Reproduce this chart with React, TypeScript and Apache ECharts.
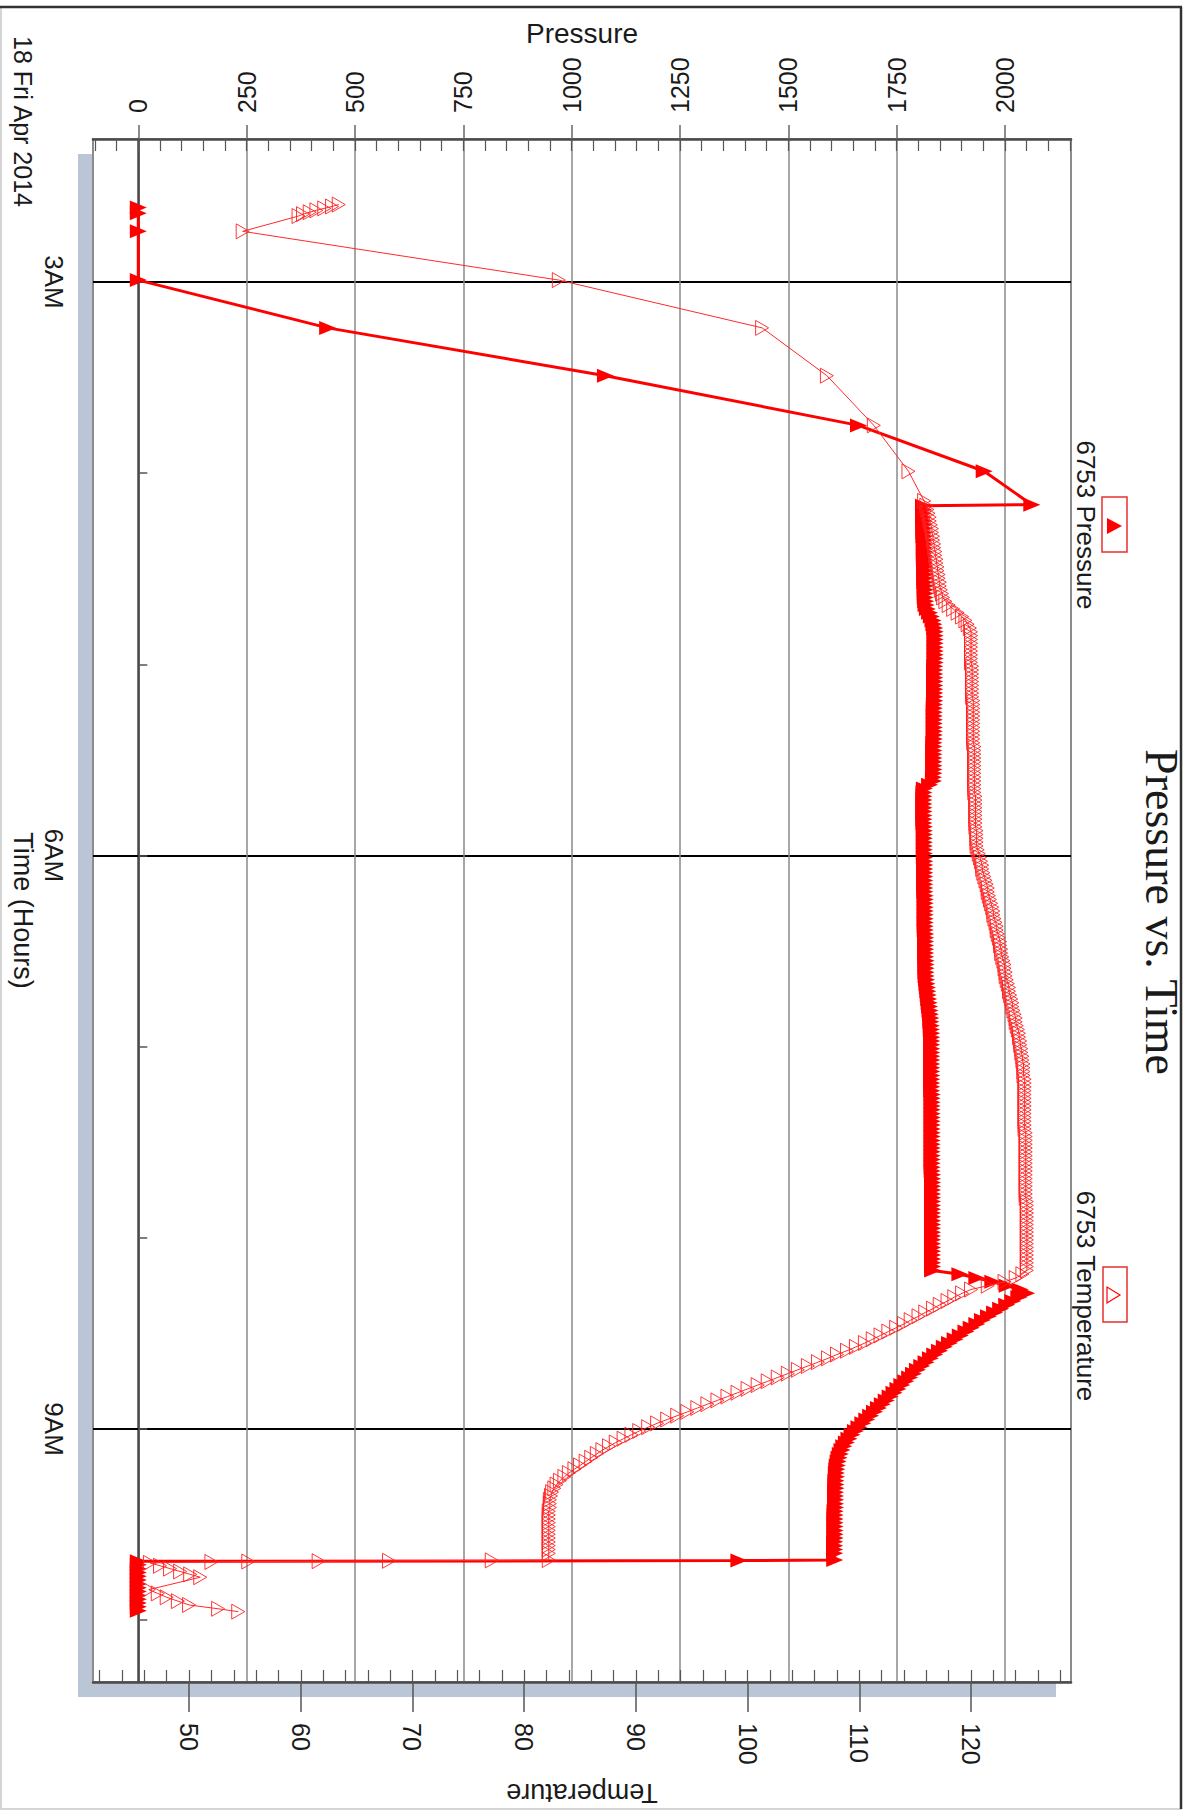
import React, { useEffect, useRef } from "react";
import * as echarts from "echarts";

const FONT = "'Liberation Sans', Arial, sans-serif";
const SERIF = "'Liberation Serif', 'Times New Roman', serif";

// ---- axis ticks / labels ----
const pressureMajorTicks = [0, 250, 500, 750, 1000, 1250, 1500, 1750, 2000];
const temperatureMajorTicks = [50, 60, 70, 80, 90, 100, 110, 120];
const timeMajorTicks = [3, 6, 9];
const timeMajorLabels = ["3AM", "6AM", "9AM"];
const timeHourTicks = [3, 4, 5, 6, 7, 8, 9, 10];

function steps(from: number, to: number, step: number): number[] {
  const out: number[] = [];
  for (let v = from; v <= to + 1e-9; v += step) out.push(Math.round(v * 1000) / 1000);
  return out;
}
const pressureMinorTicks = steps(-100, 2150, 50);
const temperatureMinorTicks = steps(42, 128, 2);

// ---- data (time in hours of the day) ----
const pressureStartHours = [2.61, 2.64, 2.735, 2.99, 3.24, 3.49, 3.75, 3.99, 4.165];
const pressureStartValues = [0, 0, 0, 0, 437, 1078, 1662, 1952, 2062];

const denseHours = [
  4.17, 4.19, 4.21, 4.23, 4.25, 4.27, 4.29, 4.31, 4.33, 4.35,
  4.37, 4.39, 4.41, 4.43, 4.45, 4.47, 4.49, 4.51, 4.53, 4.55,
  4.57, 4.59, 4.61, 4.63, 4.65, 4.67, 4.69, 4.71, 4.73, 4.75,
  4.77, 4.79, 4.81, 4.83, 4.85, 4.87, 4.89, 4.91, 4.93, 4.95,
  4.97, 4.99, 5.01, 5.03, 5.05, 5.07, 5.09, 5.11, 5.13, 5.15,
  5.17, 5.19, 5.21, 5.23, 5.25, 5.27, 5.29, 5.31, 5.33, 5.35,
  5.37, 5.39, 5.41, 5.43, 5.45, 5.47, 5.49, 5.51, 5.53, 5.55,
  5.57, 5.59, 5.61, 5.63, 5.65, 5.67, 5.69, 5.71, 5.73, 5.75,
  5.77, 5.79, 5.81, 5.83, 5.85, 5.87, 5.89, 5.91, 5.93, 5.95,
  5.97, 5.99, 6.01, 6.03, 6.05, 6.07, 6.09, 6.11, 6.13, 6.15,
  6.17, 6.19, 6.21, 6.23, 6.25, 6.27, 6.29, 6.31, 6.33, 6.35,
  6.37, 6.39, 6.41, 6.43, 6.45, 6.47, 6.49, 6.51, 6.53, 6.55,
  6.57, 6.59, 6.61, 6.63, 6.65, 6.67, 6.69, 6.71, 6.73, 6.75,
  6.77, 6.79, 6.81, 6.83, 6.85, 6.87, 6.89, 6.91, 6.93, 6.95,
  6.97, 6.99, 7.01, 7.03, 7.05, 7.07, 7.09, 7.11, 7.13, 7.15,
  7.17, 7.19, 7.21, 7.23, 7.25, 7.27, 7.29, 7.31, 7.33, 7.35,
  7.37, 7.39, 7.41, 7.43, 7.45, 7.47, 7.49, 7.51, 7.53, 7.55,
  7.57, 7.59, 7.61, 7.63, 7.65, 7.67, 7.69, 7.71, 7.73, 7.75,
  7.77, 7.79, 7.81, 7.83, 7.85, 7.87, 7.89, 7.91, 7.93, 7.95,
  7.97, 7.99, 8.01, 8.03, 8.05, 8.07, 8.09, 8.11, 8.13, 8.15,
  8.17,
];

const pressureDenseValues = [
  1812, 1812, 1812, 1812, 1813, 1813, 1813, 1813, 1813, 1814,
  1814, 1814, 1814, 1814, 1814, 1815, 1815, 1815, 1815, 1815,
  1815, 1816, 1816, 1816, 1816, 1817, 1818, 1821, 1826, 1830,
  1834, 1836, 1838, 1839, 1839, 1839, 1839, 1839, 1839, 1839,
  1839, 1839, 1838, 1838, 1838, 1838, 1838, 1838, 1838, 1838,
  1838, 1838, 1837, 1837, 1837, 1837, 1837, 1837, 1837, 1837,
  1837, 1837, 1836, 1836, 1836, 1836, 1836, 1836, 1836, 1836,
  1836, 1835, 1835, 1826, 1814, 1813, 1813, 1813, 1813, 1813,
  1813, 1813, 1813, 1813, 1814, 1814, 1814, 1814, 1814, 1814,
  1814, 1814, 1814, 1815, 1815, 1815, 1815, 1815, 1815, 1815,
  1815, 1815, 1816, 1816, 1816, 1816, 1816, 1816, 1816, 1816,
  1816, 1816, 1817, 1817, 1817, 1817, 1817, 1817, 1817, 1818,
  1818, 1818, 1818, 1818, 1819, 1820, 1821, 1822, 1823, 1824,
  1825, 1826, 1827, 1828, 1829, 1829, 1830, 1830, 1831, 1831,
  1831, 1831, 1831, 1831, 1831, 1831, 1831, 1831, 1831, 1831,
  1831, 1831, 1831, 1831, 1832, 1832, 1832, 1832, 1832, 1832,
  1832, 1832, 1832, 1832, 1832, 1832, 1832, 1832, 1832, 1832,
  1832, 1832, 1832, 1832, 1832, 1833, 1833, 1833, 1833, 1833,
  1833, 1833, 1833, 1833, 1833, 1833, 1833, 1833, 1833, 1833,
  1833, 1833, 1833, 1833, 1833, 1833, 1833, 1833, 1833, 1833,
  1833,
];

const pressureEndHours = [
  8.19, 8.21, 8.23, 8.25, 8.27, 8.29,
  8.31, 8.33, 8.35, 8.37, 8.39, 8.41, 8.43, 8.45, 8.47, 8.49,
  8.51, 8.53, 8.55, 8.57, 8.59, 8.61, 8.63, 8.65, 8.67, 8.69,
  8.71, 8.73, 8.75, 8.77, 8.79, 8.81, 8.83, 8.85, 8.87, 8.89,
  8.91, 8.93, 8.95, 8.97, 8.99, 9.01, 9.03, 9.05, 9.07, 9.09,
  9.11, 9.13, 9.15, 9.17, 9.19, 9.21, 9.23, 9.25, 9.27, 9.29,
  9.31, 9.33, 9.35, 9.37, 9.39, 9.41, 9.43, 9.45, 9.47, 9.49,
  9.51, 9.53, 9.55, 9.57, 9.59, 9.61, 9.63, 9.65,
  9.685, 9.688, 9.692,
  9.71, 9.73, 9.75, 9.77, 9.79, 9.81, 9.83, 9.85, 9.87, 9.89, 9.91, 9.93, 9.95,
];
const pressureEndValues = [
  1896, 1935, 1972, 2005, 2035, 2050,
  2032, 2018, 2004, 1990, 1976, 1962, 1948, 1935, 1922, 1910,
  1897, 1885, 1872, 1860, 1849, 1838, 1828, 1818, 1808, 1798,
  1789, 1780, 1771, 1762, 1753, 1744, 1735, 1726, 1717, 1708,
  1699, 1690, 1681, 1672, 1663, 1655, 1647, 1640, 1634, 1628,
  1624, 1620, 1617, 1615, 1613, 1612, 1611, 1611, 1610, 1610,
  1610, 1609, 1609, 1609, 1609, 1609, 1608, 1608, 1608, 1608,
  1608, 1608, 1608, 1608, 1607, 1607, 1607, 1607,
  1607, 1386, 0,
  0, 0, 0, 0, 0, 0, 0, 0, 0, 0, 0, 0, 0,
];

const tempStartHours = [2.595, 2.605, 2.615, 2.625, 2.635, 2.645, 2.655, 2.735, 2.99, 3.24, 3.49, 3.75, 3.99, 4.145];
const tempStartValues = [63.4, 62.8, 62.1, 61.4, 60.8, 60.2, 59.8, 54.8, 83.1, 101.3, 107.1, 111.3, 114.4, 115.8];

const tempDenseValues = [
  116.0, 116.1, 116.2, 116.3, 116.3, 116.4, 116.5, 116.5, 116.6, 116.6,
  116.7, 116.7, 116.8, 116.8, 116.9, 116.9, 117.0, 117.0, 117.1, 117.1,
  117.2, 117.2, 117.3, 117.4, 117.5, 117.7, 118.0, 118.4, 118.8, 119.2,
  119.5, 119.7, 119.9, 120.0, 120.0, 120.0, 120.0, 120.0, 120.0, 120.0,
  120.0, 120.0, 120.1, 120.1, 120.1, 120.1, 120.1, 120.1, 120.1, 120.1,
  120.1, 120.2, 120.2, 120.2, 120.2, 120.2, 120.2, 120.2, 120.2, 120.2,
  120.2, 120.2, 120.2, 120.3, 120.3, 120.3, 120.3, 120.3, 120.3, 120.3,
  120.3, 120.3, 120.3, 120.3, 120.3, 120.3, 120.4, 120.4, 120.4, 120.4,
  120.4, 120.4, 120.4, 120.4, 120.4, 120.5, 120.5, 120.5, 120.5, 120.5,
  120.6, 120.7, 120.8, 120.9, 121.0, 121.0, 121.1, 121.2, 121.3, 121.4,
  121.5, 121.5, 121.6, 121.7, 121.8, 121.9, 122.0, 122.0, 122.1, 122.2,
  122.3, 122.3, 122.4, 122.5, 122.6, 122.6, 122.7, 122.7, 122.8, 122.9,
  123.0, 123.0, 123.1, 123.1, 123.2, 123.3, 123.4, 123.4, 123.5, 123.6,
  123.7, 123.7, 123.8, 123.9, 124.0, 124.0, 124.1, 124.2, 124.3, 124.3,
  124.4, 124.4, 124.5, 124.5, 124.6, 124.6, 124.7, 124.7, 124.7, 124.7,
  124.8, 124.8, 124.8, 124.8, 124.8, 124.8, 124.8, 124.8, 124.8, 124.8,
  124.8, 124.8, 124.8, 124.8, 124.9, 124.9, 124.9, 124.9, 124.9, 124.9,
  124.9, 124.9, 124.9, 124.9, 124.9, 124.9, 124.9, 124.9, 124.9, 124.9,
  124.9, 124.9, 125.0, 125.0, 125.0, 125.0, 125.0, 125.0, 125.0, 125.0,
  125.0, 125.0, 125.0, 125.0, 125.0, 125.0, 125.0, 125.0, 125.0, 125.0,
  125.0,
];

const tempEndHours = [
  8.19, 8.21, 8.23, 8.25, 8.27, 8.29,
  8.31, 8.33, 8.35, 8.37, 8.39, 8.41, 8.43, 8.45, 8.47, 8.49,
  8.51, 8.53, 8.55, 8.57, 8.59, 8.61, 8.63, 8.65, 8.67, 8.69,
  8.71, 8.73, 8.75, 8.77, 8.79, 8.81, 8.83, 8.85, 8.87, 8.89,
  8.91, 8.93, 8.95, 8.97, 8.99, 9.01, 9.03, 9.05, 9.07, 9.09,
  9.11, 9.13, 9.15, 9.17, 9.19, 9.21, 9.23, 9.25, 9.27, 9.29,
  9.31, 9.33, 9.35, 9.37, 9.39, 9.41, 9.43, 9.45, 9.47, 9.49,
  9.51, 9.53, 9.55, 9.57, 9.59, 9.61, 9.63, 9.65,
  9.685, 9.687, 9.689, 9.691, 9.693, 9.695,
  9.7, 9.715, 9.73, 9.745, 9.76, 9.775,
  9.84, 9.86, 9.88, 9.9, 9.92, 9.94, 9.955,
];
const tempEndValues = [
  124.6, 124.0, 123.0, 121.5, 120.0, 119.2,
  118.5, 117.9, 117.2, 116.6, 115.9, 115.3, 114.6, 114.0, 113.3, 112.6,
  111.9, 111.2, 110.5, 109.7, 108.9, 108.0, 107.2, 106.3, 105.4, 104.5,
  103.6, 102.7, 101.8, 100.9, 100.0, 99.1, 98.2, 97.3, 96.4, 95.5,
  94.6, 93.7, 92.8, 91.9, 91.1, 90.3, 89.6, 88.9, 88.2, 87.6,
  87.0, 86.5, 86.0, 85.5, 85.0, 84.5, 84.0, 83.6, 83.2, 82.9,
  82.7, 82.5, 82.4, 82.3, 82.3, 82.3, 82.2, 82.2, 82.2, 82.2,
  82.2, 82.2, 82.2, 82.2, 82.2, 82.2, 82.2, 82.2,
  82.2, 77.1, 67.9, 61.6, 55.3, 52.0,
  46.5, 47.4, 48.3, 49.2, 50.1, 51.0,
  46.4, 47.2, 48.0, 49.0, 50.0, 52.6, 54.4,
];

const pressureHours = [...pressureStartHours, ...denseHours, ...pressureEndHours];
const pressureValues = [...pressureStartValues, ...pressureDenseValues, ...pressureEndValues];
const tempHours = [...tempStartHours, ...denseHours, ...tempEndHours];
const tempValues = [...tempStartValues, ...tempDenseValues, ...tempEndValues];

const pressureData = pressureHours.map((h, i) => [pressureValues[i], h]);
const tempData = tempHours.map((h, i) => [tempValues[i], h]);

const RED = "#ff0000";

function buildOption(): any {
  const pMin = -104.5, pMax = 2152.4;
  const tMin = 41.4, tMax = 128.95;
  const hMin = 2.252, hMax = 10.323;
  const labelColor = "#1a1a1a";
  return {
    animation: false,
    textStyle: { fontFamily: FONT },
    grid: { left: 93, top: 139, right: 124, bottom: 130, show: false, outerBoundsMode: "none" },
    xAxis: [
      {
        type: "value", position: "top", min: pMin, max: pMax,
        axisLine: { show: true, lineStyle: { color: "#4a4a4a", width: 2.5 } },
        axisTick: { show: true, inside: true, length: 12, customValues: pressureMinorTicks, lineStyle: { color: "#555", width: 1.2 } },
        axisLabel: { show: false },
        splitLine: { show: false },
      },
      {
        type: "value", position: "top", min: pMin, max: pMax,
        name: "Pressure", nameLocation: "middle", nameGap: 92, nameMoveOverlap: false,
        nameTextStyle: { fontSize: 28, color: labelColor, fontFamily: FONT },
        axisLine: { show: false },
        axisTick: { show: true, inside: false, length: 14, customValues: pressureMajorTicks, lineStyle: { color: "#666", width: 1.5 } },
        axisLabel: {
          show: true, customValues: pressureMajorTicks, rotate: -90, margin: 26, fontSize: 25, color: labelColor, fontFamily: FONT,
          formatter: (v: number) => String(v),
        },
        splitLine: { show: true, lineStyle: { color: "#8a8a8a", width: 1.5 } },
      },
      {
        type: "value", position: "bottom", min: tMin, max: tMax,
        axisLine: { show: true, lineStyle: { color: "#4a4a4a", width: 2.5 } },
        axisTick: { show: true, inside: true, length: 12, customValues: temperatureMinorTicks, lineStyle: { color: "#555", width: 1.2 } },
        axisLabel: { show: false },
        splitLine: { show: false },
      },
      {
        type: "value", position: "bottom", min: tMin, max: tMax,
        name: "Temperature", nameLocation: "middle", nameGap: 97, nameRotate: 180, nameMoveOverlap: false,
        nameTextStyle: { fontSize: 27, color: labelColor, fontFamily: FONT },
        axisLine: { show: false },
        axisTick: { show: true, inside: false, length: 30, customValues: temperatureMajorTicks, lineStyle: { color: "#555", width: 1.5 } },
        axisLabel: {
          show: true, customValues: temperatureMajorTicks, rotate: -90, margin: 41, fontSize: 25, color: labelColor, fontFamily: FONT,
          formatter: (v: number) => String(v),
        },
        splitLine: { show: false },
      },
    ],
    yAxis: [
      {
        type: "value", position: "left", inverse: true, min: hMin, max: hMax,
        name: "Time (Hours)", nameLocation: "middle", nameGap: 57, nameRotate: -90, nameMoveOverlap: false,
        nameTextStyle: { fontSize: 27, color: labelColor, fontFamily: FONT },
        axisLine: { show: true, lineStyle: { color: "#4a4a4a", width: 2.5 } },
        axisTick: { show: true, inside: false, length: 21, customValues: timeMajorTicks, lineStyle: { color: "#000", width: 2 } },
        axisLabel: {
          show: true, customValues: timeMajorTicks, rotate: -90, margin: 26, fontSize: 26, color: labelColor, fontFamily: FONT,
          formatter: (v: number) => timeMajorLabels[timeMajorTicks.indexOf(v)] ?? "",
        },
        splitLine: { show: true, lineStyle: { color: "#000", width: 2 } },
      },
      {
        type: "value", position: "left", inverse: true, min: hMin, max: hMax,
        axisLine: { show: false },
        axisTick: { show: true, inside: true, length: 9, customValues: timeHourTicks, lineStyle: { color: "#555", width: 1.5 } },
        axisLabel: { show: false },
        splitLine: { show: false },
      },
    ],
    series: [
      {
        type: "line", name: "6753 Pressure", xAxisIndex: 0, yAxisIndex: 0,
        data: pressureData, symbol: "triangle", symbolSize: [14, 17], symbolRotate: -90,
        lineStyle: { color: RED, width: 3 },
        itemStyle: { color: RED },
        emphasis: { disabled: true },
        z: 3,
      },
      {
        type: "line", name: "6753 Temperature", xAxisIndex: 2, yAxisIndex: 0,
        data: tempData, symbol: "triangle", symbolSize: [15, 13], symbolRotate: -90,
        lineStyle: { color: "#ff2a2a", width: 1 },
        itemStyle: { color: "rgba(255,255,255,0)", borderColor: "#ff2020", borderWidth: 0.9 },
        emphasis: { disabled: true },
        z: 4,
      },
    ],
    graphic: [
      // outer frame
      { type: "rect", z: -30, shape: { x: 1, y: 7, width: 1180, height: 1802 }, style: { fill: "#fff", stroke: "#c8c8c8", lineWidth: 1.5 } },
      { type: "line", z: -29, shape: { x1: 0, y1: 7, x2: 1182, y2: 7 }, style: { stroke: "#333", lineWidth: 2.5 } },
      { type: "line", z: -29, shape: { x1: 1181, y1: 7, x2: 1181, y2: 1809 }, style: { stroke: "#333", lineWidth: 2.5 } },
      // plot shadow and background
      { type: "rect", z: -20, shape: { x: 78, y: 154, width: 978, height: 1543 }, style: { fill: "#bac6d5" } },
      { type: "rect", z: -10, shape: { x: 93, y: 139, width: 978, height: 1543 }, style: { fill: "#fff", stroke: "#8c8c8c", lineWidth: 2 } },
      // title
      {
        type: "text", x: 1161, y: 912, rotation: -Math.PI / 2,
        style: { text: "Pressure vs. Time", fontFamily: SERIF, fontSize: 46, fill: "#1a1a1a", align: "center", verticalAlign: "middle" },
      },
      // date
      {
        type: "text", x: 23, y: 36, rotation: -Math.PI / 2,
        style: { text: "18 Fri Apr 2014", fontFamily: FONT, fontSize: 25, fill: "#1a1a1a", align: "left", verticalAlign: "middle" },
      },
      // legend: pressure
      { type: "rect", shape: { x: 1102, y: 497, width: 25, height: 55 }, style: { fill: "none", stroke: "#e53030", lineWidth: 1.5 } },
      { type: "polygon", shape: { points: [[1107, 518], [1107, 534], [1122, 526]] }, style: { fill: RED } },
      {
        type: "text", x: 1086, y: 525, rotation: -Math.PI / 2,
        style: { text: "6753 Pressure", fontFamily: FONT, fontSize: 26, fill: "#1a1a1a", align: "center", verticalAlign: "middle" },
      },
      // legend: temperature
      { type: "rect", shape: { x: 1103, y: 1267, width: 24, height: 55 }, style: { fill: "none", stroke: "#e53030", lineWidth: 1.5 } },
      { type: "polygon", shape: { points: [[1107, 1287], [1107, 1303], [1120, 1295]] }, style: { fill: "none", stroke: RED, lineWidth: 1.2 } },
      {
        type: "text", x: 1086, y: 1296, rotation: -Math.PI / 2,
        style: { text: "6753 Temperature", fontFamily: FONT, fontSize: 26, fill: "#1a1a1a", align: "center", verticalAlign: "middle" },
      },
    ],
  };
}

export default function App() {
  const ref = useRef<HTMLDivElement>(null);
  useEffect(() => {
    document.body.style.margin = "0";
    const chart = echarts.init(ref.current as HTMLDivElement, null, { renderer: "svg" });
    chart.setOption(buildOption());
    return () => chart.dispose();
  }, []);
  return <div ref={ref} style={{ width: 1195, height: 1812 }} />;
}
